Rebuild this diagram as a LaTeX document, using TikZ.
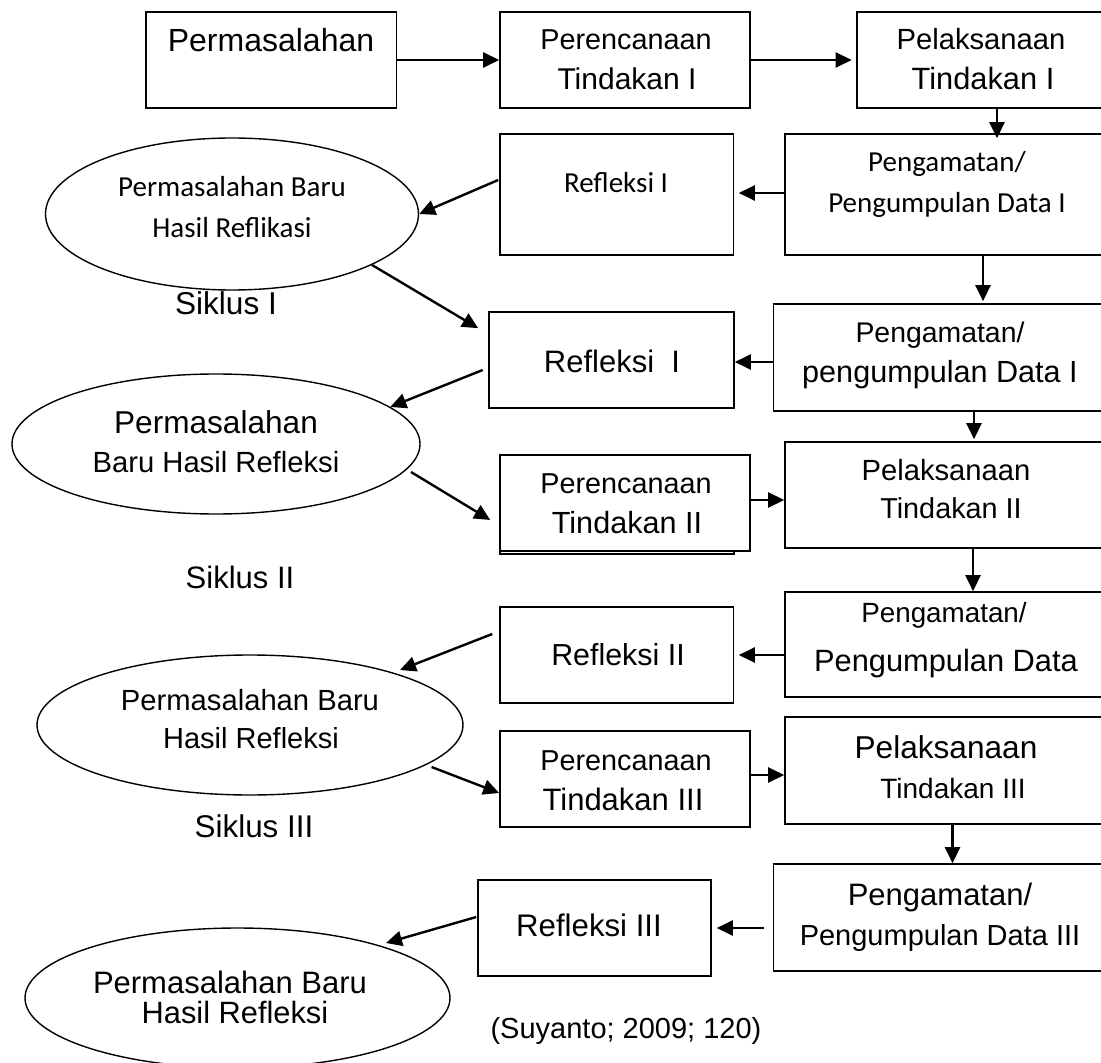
\documentclass[tikz,border=0pt]{standalone}
\usepackage{fontspec}
\setmainfont{Liberation Sans}
\newfontfamily\calibri{Carlito}
\usetikzlibrary{shapes.geometric,arrows.meta,calc}
\newcommand\ukuranhuruf[1]{\fontsize{#1}{#1}\selectfont}
\tikzset{
	kotak/.style={draw, line width=0.8pt, fill=white, inner sep=0pt},
	elips/.style={draw, ellipse, line width=0.7pt, inner sep=0pt},
	teks/.style={anchor=base, inner sep=0pt},
	panah/.style={-{Triangle[length=8pt,width=7.5pt]}, line width=1.2pt}
}

\begin{document}
\begin{tikzpicture}[x=0.5pt, y=-0.5pt]
	\useasboundingbox (0,0) rectangle (1101,1063);
	\clip (0,0) rectangle (1101,1063);

	% kotak-kotak
	\node[kotak, minimum width=125.25pt, minimum height=48pt] (masalah) at (271.25,60) {};
	\node[kotak, minimum width=125pt, minimum height=48pt] (rencana1) at (625,60) {};
	\node[kotak, minimum width=131.5pt, minimum height=48pt] (laksana1) at (988.5,60) {};
	\node[kotak, minimum width=167.5pt, minimum height=60.5pt] (amat1) at (952.5,194.5) {};
	\node[kotak, minimum width=116.75pt, minimum height=60.5pt] (refleksi1) at (616.75,194.5) {};
	\node[kotak, minimum width=122.5pt, minimum height=48pt] (refleksi1b) at (611.5,360) {};
	\node[kotak, minimum width=173.25pt, minimum height=53.5pt] (amat1b) at (946.75,357.5) {};
	\node[kotak, minimum width=117pt, minimum height=47pt] (bayang2) at (617,507) {};
	\node[kotak, minimum width=125pt, minimum height=48pt] (rencana2) at (625,503) {};
	\node[kotak, minimum width=167.5pt, minimum height=53pt] (laksana2) at (952.5,495) {};
	\node[kotak, minimum width=167.5pt, minimum height=52.5pt] (amat2) at (952.5,644.5) {};
	\node[kotak, minimum width=116.75pt, minimum height=48pt] (refleksi2) at (616.75,655) {};
	\node[kotak, minimum width=125pt, minimum height=48pt] (rencana3) at (625,779) {};
	\node[kotak, minimum width=167.5pt, minimum height=53.5pt] (laksana3) at (952.5,770.5) {};
	\node[kotak, minimum width=173.25pt, minimum height=53.5pt] (amat3) at (946.75,917.5) {};
	\node[kotak, minimum width=116.5pt, minimum height=48pt] (refleksi3) at (594.5,928) {};

	% elips
	\node[elips, minimum width=186.5pt, minimum height=76pt] (e1) at (232,214) {};
	\node[elips, minimum width=204pt, minimum height=70pt] (e2) at (216,444) {};
	\node[elips, minimum width=213pt, minimum height=70pt] (e3) at (250,725) {};
	\node[elips, minimum width=212.5pt, minimum height=70pt] (e4) at (237.5,998) {};

	% tulisan
	\node[teks, font=\ukuranhuruf{16}] (tmasalah) at (271,52) {Permasalahan};
	\node[teks, font=\ukuranhuruf{14.4}] (trencana1a) at (626,50) {Perencanaan};
	\node[teks, font=\ukuranhuruf{15}] (trencana1b) at (627,90) {Tindakan I};
	\node[teks, font=\ukuranhuruf{14.6}] (tlaksana1a) at (981,50) {Pelaksanaan};
	\node[teks, font=\ukuranhuruf{15.4}] (tlaksana1b) at (983,90) {Tindakan I};
	\node[teks, font=\calibri\ukuranhuruf{14.5}] (tamat1a) at (947,172) {Pengamatan/};
	\node[teks, font=\calibri\ukuranhuruf{14.5}] (tamat1b) at (947,213) {Pengumpulan Data I};
	\node[teks, font=\calibri\ukuranhuruf{14.5}] (trefleksi1) at (616,193) {Refleksi I};
	\node[teks, font=\calibri\ukuranhuruf{14.5}] (te1a) at (232,197) {Permasalahan Baru};
	\node[teks, font=\calibri\ukuranhuruf{14.5}] (te1b) at (232,238) {Hasil Reflikasi};
	\node[teks, font=\ukuranhuruf{15.8}] (siklus1) at (226,315) {Siklus I};
	\node[teks, font=\ukuranhuruf{15.5}] (trefleksi1b) at (612,373) {Refleksi\ \ I};
	\node[teks, font=\ukuranhuruf{14.2}] (tamat1ba) at (940,343) {Pengamatan/};
	\node[teks, font=\ukuranhuruf{15.3}] (tamat1bb) at (940,383) {pengumpulan Data I};
	\node[teks, font=\ukuranhuruf{15.8}] (te2a) at (216,433) {Permasalahan};
	\node[teks, font=\ukuranhuruf{14.6}] (te2b) at (216,472) {Baru Hasil Refleksi};
	\node[teks, font=\ukuranhuruf{14.4}] (trencana2a) at (626,493) {Perencanaan};
	\node[teks, font=\ukuranhuruf{15.3}] (trencana2b) at (627,533) {Tindakan II};
	\node[teks, font=\ukuranhuruf{14.6}] (tlaksana2a) at (946,480) {Pelaksanaan};
	\node[teks, font=\ukuranhuruf{14.4}] (tlaksana2b) at (951,518) {Tindakan II};
	\node[teks, font=\ukuranhuruf{15.5}] (siklus2) at (240,588) {Siklus II};
	\node[teks, font=\ukuranhuruf{13.9}] (tamat2a) at (944,622) {Pengamatan/};
	\node[teks, font=\ukuranhuruf{15.4}] (tamat2b) at (946,671) {Pengumpulan Data};
	\node[teks, font=\ukuranhuruf{15.2}] (trefleksi2) at (618,665) {Refleksi II};
	\node[teks, font=\ukuranhuruf{14.6}] (te3a) at (250,710) {Permasalahan Baru};
	\node[teks, font=\ukuranhuruf{14.5}] (te3b) at (251,748) {Hasil Refleksi};
	\node[teks, font=\ukuranhuruf{14.4}] (trencana3a) at (626,770) {Perencanaan};
	\node[teks, font=\ukuranhuruf{15.5}] (trencana3b) at (623,810) {Tindakan III};
	\node[teks, font=\ukuranhuruf{15.8}] (tlaksana3a) at (946,758) {Pelaksanaan};
	\node[teks, font=\ukuranhuruf{14}] (tlaksana3b) at (953,798) {Tindakan III};
	\node[teks, font=\ukuranhuruf{15.7}] (siklus3) at (254,837) {Siklus III};
	\node[teks, font=\ukuranhuruf{15.5}] (tamat3a) at (940,905) {Pengamatan/};
	\node[teks, font=\ukuranhuruf{14.5}] (tamat3b) at (940,945) {Pengumpulan Data III};
	\node[teks, font=\ukuranhuruf{15.6}] (trefleksi3) at (589,936) {Refleksi III};
	\node[teks, font=\ukuranhuruf{15.5}] (te4a) at (230,993) {Permasalahan Baru};
	\node[teks, font=\ukuranhuruf{15.4}] (te4b) at (235,1023) {Hasil Refleksi};
	\node[teks, font=\ukuranhuruf{14.5}] (sumber) at (626,1038) {(Suyanto; 2009; 120)};

	% panah
	\draw[panah] (masalah.east) -- (rencana1.west);
	\draw[panah] (rencana1.east) -- ($(laksana1.west)+(-4.5,0)$);
	\draw[panah] ($(laksana1.south)+(8.5,0)$) coordinate (p1) -- ($(p1 |- amat1.north)+(0,5)$);
	\draw[panah] ($(amat1.west)+(0,-1.5)$) coordinate (p2) -- ($(p2 -| refleksi1.east)+(4.5,0)$);
	\draw[panah] ($(refleksi1.west)+(-1,-14.5)$) -- (e1.east);
	\draw[panah] (e1.-20) -- ($(refleksi1b.north west)+(-10,17)$);
	\draw[panah] ($(amat1.south)+(30.5,0)$) coordinate (p3) -- ($(p3 |- amat1b.north)+(0,-2)$);
	\draw[panah] ($(amat1b.west)+(0,4.5)$) coordinate (p4) -- (p4 -| refleksi1b.east);
	\draw[panah] ($(refleksi1b.west)+(-5.5,10)$) -- (e2.12);
	\draw[panah] ($(e2.center)+(195,28)$) -- ($(rencana2.west)+(-9,17)$);
	\draw[panah] ($(rencana2.east)+(0,-3)$) coordinate (p5) -- (p5 -| laksana2.west);
	\draw[panah] ($(amat1b.south)+(27.25,0)$) coordinate (p6) -- ($(p6 |- laksana2.north)+(0,-2)$);
	\draw[panah] ($(laksana2.south)+(20.5,0)$) coordinate (p7) -- (p7 |- amat2.north);
	\draw[panah] ($(amat2.west)+(0,10.5)$) coordinate (p8) -- ($(p8 -| refleksi2.east)+(4.5,0)$);
	\draw[panah] ($(refleksi2.west)+(-7,-21)$) -- ($(e3.center)+(150,-55)$);
	\draw[panah] ($(e3.center)+(181.6,42)$) -- ($(rencana3.west)+(0,14)$);
	\draw[panah] ($(rencana3.east)+(0,-4)$) coordinate (p9) -- (p9 -| laksana3.west);
	\draw[panah] (laksana3.south) -- (laksana3.south |- amat3.north);
	\draw[panah] ($(amat3.west)+(-8.5,10.5)$) coordinate (p10) -- ($(p10 -| refleksi3.east)+(5,0)$);
	\draw[panah] ($(refleksi3.west)+(-1,-11)$) -- ($(e4.center)+(148.5,-55)$);
\end{tikzpicture}
\end{document}
